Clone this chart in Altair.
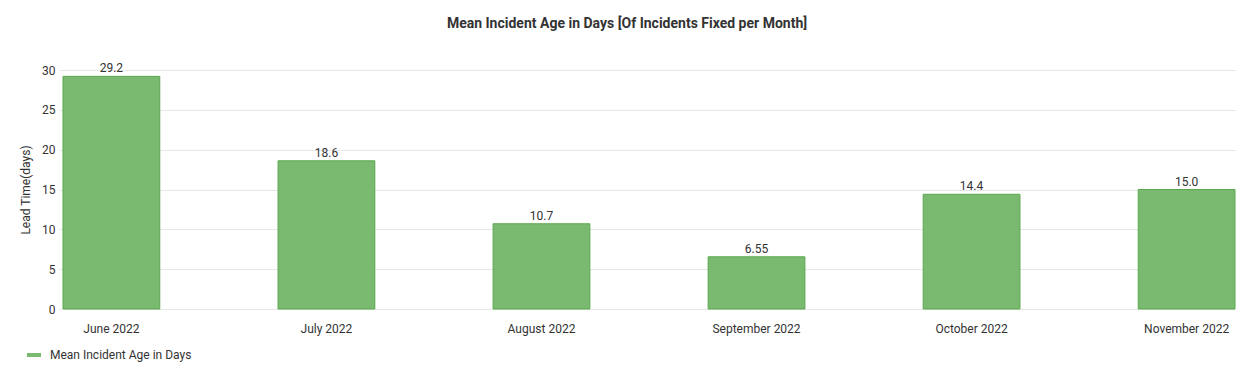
import altair as alt
import pandas as pd

months = ["June 2022", "July 2022", "August 2022", "September 2022", "October 2022", "November 2022"]
values = [29.2, 18.6, 10.7, 6.55, 14.4, 15.0]
series = ["Mean Incident Age in Days"] * len(months)
y_ticks = [0, 5, 10, 15, 20, 25, 30]

df = pd.DataFrame({"month": months, "value": values, "series": series})

FILL = "#79ba70"
STROKE = "#5aa84d"
FONT = "Roboto"

x = alt.X("month:N", sort=months, title=None,
          scale=alt.Scale(paddingInner=0.55, paddingOuter=0.0),
          axis=alt.Axis(labelAngle=0, labelFontSize=12, labelColor="#333", labelFont=FONT,
                        ticks=False, domain=False, grid=False, labelPadding=14))
y = alt.Y("value:Q", title="Lead Time(days)",
          scale=alt.Scale(domain=[0, 30], nice=False),
          axis=alt.Axis(values=y_ticks, tickCount=7, labelFontSize=12, labelColor="#333",
                        labelFont=FONT, titleFont=FONT, titleFontSize=12, titleFontWeight="normal",
                        titleColor="#333", domain=False, tickSize=4, tickColor="#e6e6e6",
                        gridColor="#e6e6e6", labelPadding=4, titlePadding=9, labelOverlap=False))

bars = alt.Chart(df).mark_bar(stroke=STROKE, strokeWidth=1).encode(
    x=x, y=y,
    color=alt.Color("series:N", title=None,
                    scale=alt.Scale(range=[FILL]),
                    legend=alt.Legend(orient="none", legendX=-36, legendY=278,
                                      symbolType="M-1,-0.286H1V0.286H-1Z", symbolSize=196,
                                      symbolStrokeWidth=0, labelFont=FONT, labelFontSize=12,
                                      labelColor="#333", labelOffset=9)),
)

labels = alt.Chart(df).mark_text(baseline="bottom", dy=-1, fontSize=12, font=FONT, color="#333").encode(
    x=x, y=y,
    text=alt.Text("value:Q", format=".3r"),
)

chart = (bars + labels).properties(
    width=1172, height=239,
    autosize=alt.AutoSizeParams(type="none"),
    padding={"left": 55, "top": 62, "right": 12, "bottom": 60},
    background="white",
    title=alt.TitleParams("Mean Incident Age in Days [Of Incidents Fixed per Month]",
                          font=FONT, fontSize=14, fontWeight="bold", color="#333",
                          offset=31, dx=-22),
).configure_view(stroke=None)

chart.save("out.html", embed_options={"renderer": "svg", "actions": False})
